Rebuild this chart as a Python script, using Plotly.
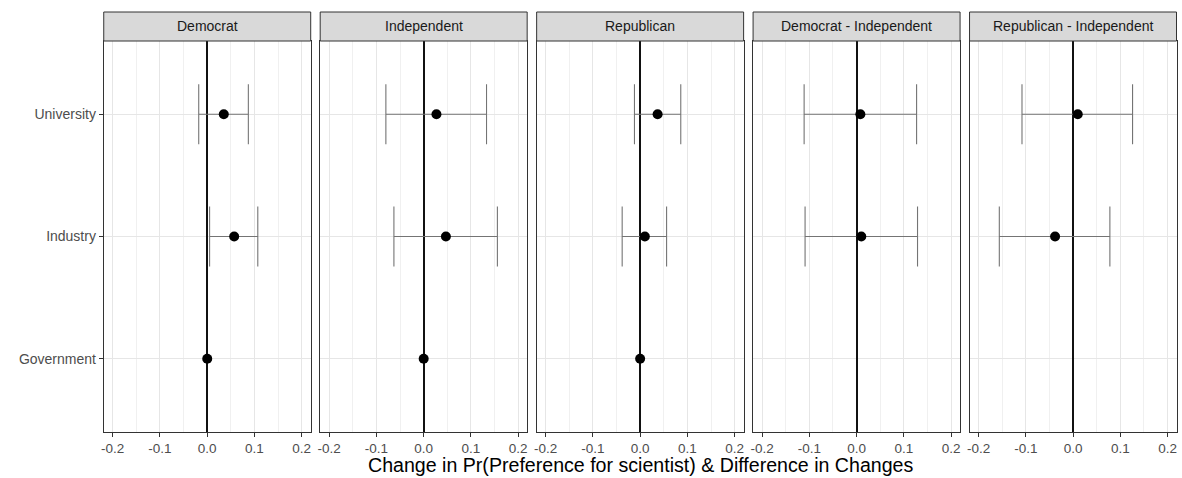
import plotly.graph_objects as go

W, H = 1182, 478

categories = ["Government", "Industry", "University"]
panels = ["Democrat", "Independent", "Republican",
          "Democrat - Independent", "Republican - Independent"]

# values listed as [University, Industry, Government]
dem_est = [0.035, 0.057, 0.0]
dem_lo = [-0.018, 0.005, None]
dem_hi = [0.087, 0.107, None]

ind_est = [0.027, 0.047, 0.0]
ind_lo = [-0.080, -0.063, None]
ind_hi = [0.133, 0.156, None]

rep_est = [0.037, 0.010, 0.0]
rep_lo = [-0.012, -0.038, None]
rep_hi = [0.086, 0.056, None]

di_est = [0.008, 0.010, None]
di_lo = [-0.111, -0.109, None]
di_hi = [0.127, 0.129, None]

ri_est = [0.010, -0.038, None]
ri_lo = [-0.108, -0.156, None]
ri_hi = [0.126, 0.078, None]

rows = ["University", "Industry", "Government"]
series = [(dem_est, dem_lo, dem_hi), (ind_est, ind_lo, ind_hi),
          (rep_est, rep_lo, rep_hi), (di_est, di_lo, di_hi),
          (ri_est, ri_lo, ri_hi)]

xticks = [-0.2, -0.1, 0.0, 0.1, 0.2]
xticktext = ["-0.2", "-0.1", "0.0", "0.1", "0.2"]

fig = go.Figure()

left0, step, pw = 101, 217, 207.5
plot_top, plot_bot = 41, 432
strip_top = 12
ydom = [1 - plot_bot / H, 1 - plot_top / H]

font_family = "Liberation Sans, Arial, sans-serif"

for i, (est, lo, hi) in enumerate(series):
    ax = "" if i == 0 else str(i + 1)
    ex, ey, plus, minus = [], [], [], []
    px_, py_ = [], []
    for r, e, l, h in zip(rows, est, lo, hi):
        if e is None:
            continue
        if l is None:
            px_.append(e)
            py_.append(r)
        else:
            ex.append(e)
            ey.append(r)
            plus.append(h - e)
            minus.append(e - l)
    fig.add_trace(go.Scatter(
        x=ex, y=ey, mode="markers",
        marker=dict(color="black", size=10),
        error_x=dict(type="data", array=plus, arrayminus=minus, symmetric=False,
                     color="#747474", thickness=1.1, width=30),
        xaxis="x" + ax, yaxis="y" + ax, showlegend=False, cliponaxis=False,
    ))
    if px_:
        fig.add_trace(go.Scatter(
            x=px_, y=py_, mode="markers",
            marker=dict(color="black", size=10),
            xaxis="x" + ax, yaxis="y" + ax, showlegend=False, cliponaxis=False,
        ))
    x0 = (left0 + i * step) / W
    x1 = (left0 + i * step + pw) / W
    xa = dict(
        domain=[x0, x1], range=[-0.219, 0.219], anchor="y" + ax,
        tickvals=xticks, ticktext=xticktext,
        showgrid=True, gridcolor="#e6e6e6", gridwidth=1,
        minor=dict(dtick=0.05, tick0=0.05, showgrid=True, gridcolor="#f0f0f0", gridwidth=0.7),
        zeroline=True, zerolinecolor="#111111", zerolinewidth=1.8,
        showline=True, mirror=True, linecolor="#333333", linewidth=1,
        ticks="outside", ticklen=4, tickcolor="#333333",
        tickfont=dict(size=13.5, color="#4d4d4d", family=font_family),
        fixedrange=True,
    )
    ya = dict(
        domain=ydom, anchor="x" + ax, type="category",
        categoryorder="array", categoryarray=categories,
        range=[-0.6, 2.6],
        showgrid=True, gridcolor="#e6e6e6", gridwidth=1,
        showline=True, mirror=True, linecolor="#333333", linewidth=1,
        ticks="outside" if i == 0 else "", ticklen=4, tickcolor="#333333",
        showticklabels=(i == 0),
        tickfont=dict(size=14, color="#4d4d4d", family=font_family),
        fixedrange=True,
    )
    if i > 0:
        ya["matches"] = "y"
    fig.update_layout(**{"xaxis" + ax: xa, "yaxis" + ax: ya})
    # strip
    fig.add_shape(type="rect", xref="paper", yref="paper",
                  x0=x0, x1=x1, y0=1 - plot_top / H, y1=1 - strip_top / H,
                  fillcolor="#d9d9d9", line=dict(color="#333333", width=1))
    fig.add_annotation(text=panels[i], xref="paper", yref="paper",
                       x=(x0 + x1) / 2, y=1 - (plot_top + strip_top) / 2 / H,
                       showarrow=False, xanchor="center", yanchor="middle",
                       font=dict(size=14, color="#1a1a1a", family=font_family))

fig.add_annotation(text="Change in Pr(Preference for scientist) & Difference in Changes",
                   xref="paper", yref="paper",
                   x=(left0 + 4 * step + pw + left0) / 2 / W, y=1 - 465 / H,
                   showarrow=False, xanchor="center", yanchor="middle",
                   font=dict(size=19.6, color="black", family=font_family))

fig.update_layout(
    width=W, height=H,
    margin=dict(l=0, r=0, t=0, b=0),
    paper_bgcolor="white", plot_bgcolor="white",
    font=dict(family=font_family),
)

fig.write_html("out.html")
